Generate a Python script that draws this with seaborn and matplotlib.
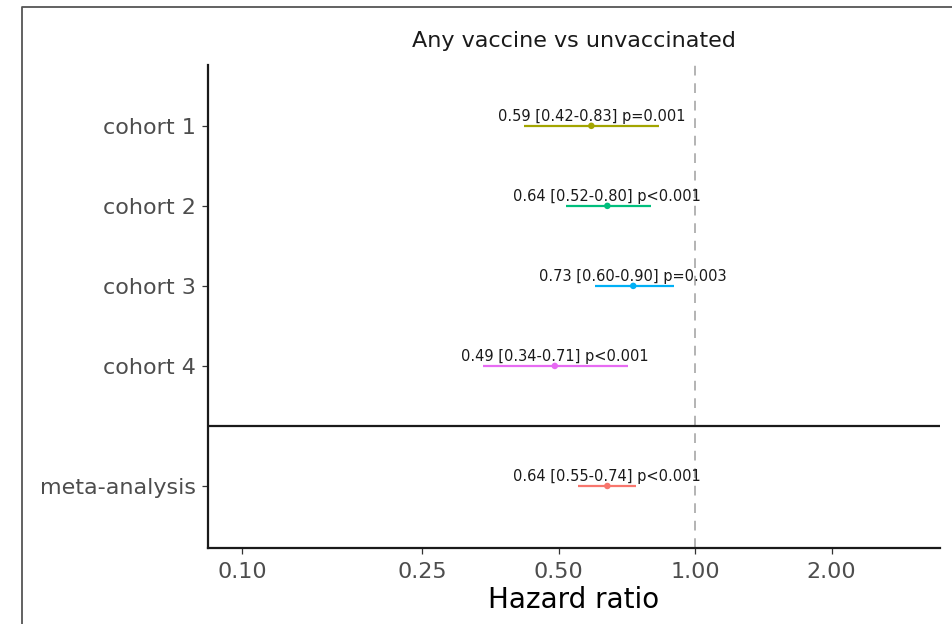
import matplotlib
matplotlib.use("Agg")
import matplotlib.pyplot as plt
from matplotlib.lines import Line2D
import seaborn as sns
import pandas as pd
import numpy as np

# Study estimates (hazard ratio with 95% CI)
studies = ["cohort 1", "cohort 2", "cohort 3", "cohort 4", "meta-analysis"]
hr = [0.59, 0.64, 0.73, 0.49, 0.64]
ci_low = [0.42, 0.52, 0.60, 0.34, 0.55]
ci_high = [0.83, 0.80, 0.90, 0.71, 0.74]
p_text = ["p=0.001", "p<0.001", "p=0.003", "p<0.001", "p<0.001"]
row_pos = [0, 1, 2, 3, 4.5]
colors = ["#A3A500", "#00BF7D", "#00B0F6", "#E76BF3", "#F8766D"]
x_ticks = [0.10, 0.25, 0.50, 1.00, 2.00]

df = pd.DataFrame({"study": studies, "hr": hr, "lo": ci_low, "hi": ci_high,
                   "p": p_text, "pos": row_pos})

sns.set_style("white")
plt.rcParams["font.family"] = ["DejaVu Sans"]

fig = plt.figure(figsize=(9.52, 6.24), dpi=100)
ax = fig.add_axes([208 / 952, 1 - 548 / 624, (940 - 208) / 952, (548 - 65) / 624])

palette = dict(zip(studies, colors))
ax.hlines(df["pos"], df["lo"], df["hi"], colors=colors, lw=1.6, zorder=2)
sns.scatterplot(data=df, x="hr", y="pos", hue="study", palette=palette,
                s=22, edgecolor="none", legend=False, ax=ax, zorder=3)

for _, r in df.iterrows():
    ax.annotate(f"{r.hr:.2f} [{r.lo:.2f}-{r.hi:.2f}] {r.p}",
                xy=(r.hr, r.pos), xytext=(0, 1.5), textcoords="offset points",
                ha="center", va="bottom", fontsize=10.5, color="#1a1a1a", zorder=4)

ax.axvline(1.0, color="#b3b3b3", lw=1.4, ls=(0, (5, 4)), zorder=1)
ax.axhline(3.75, color="#1a1a1a", lw=1.6, zorder=1)

ax.set_xscale("log")
ax.set_xlim(0.0841, 3.47)
ax.set_xticks(x_ticks)
ax.set_xticklabels([f"{t:.2f}" for t in x_ticks])
ax.minorticks_off()
ax.set_ylim(5.275, -0.76)
ax.set_yticks(row_pos)
ax.set_yticklabels(studies)

for side in ["top", "right"]:
    ax.spines[side].set_visible(False)
for side in ["left", "bottom"]:
    ax.spines[side].set_color("#1a1a1a")
    ax.spines[side].set_linewidth(1.6)

ax.tick_params(axis="both", which="major", length=4, width=0.9, color="#333333",
               labelcolor="#4D4D4D", labelsize=16, left=True, bottom=True)
ax.tick_params(axis="y", pad=5)
ax.tick_params(axis="x", pad=6)
ax.set_xlabel("Hazard ratio", fontsize=20, color="black", labelpad=3)
ax.set_ylabel("")
ax.set_title("Any vaccine vs unvaccinated", fontsize=16, color="#1a1a1a", pad=13)

# outer frame along the left and top edges
fx = 22 / 952
fy = 1 - 7 / 624
fig.add_artist(Line2D([fx, fx, 1.0], [0.0, fy, fy], transform=fig.transFigure,
                      color="#555555", lw=1.3))

fig.savefig("out.png", dpi=100)
